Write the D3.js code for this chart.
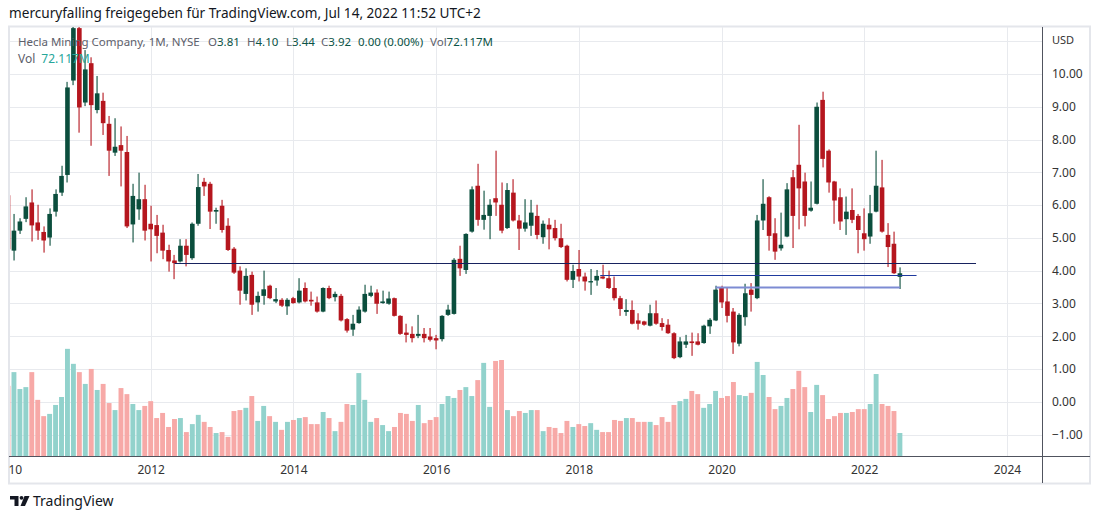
<!DOCTYPE html>
<html>
<head>
<meta charset="utf-8">
<script src="https://cdn.jsdelivr.net/npm/d3@7"></script>
<style>
  body { margin: 0; background: #fff; }
  #graf { width: 1100px; height: 519px; }
  text { font-family: 'Noto Sans', sans-serif; }
</style>
</head>
<body>
<div id="graf"></div>
<script>
// I. Datos (velas mensuales HL, NYSE, 2010-01 .. 2022-07)
primerAnio = 2010
aperturas = [6.30, 4.61, 5.22, 5.58, 6.08, 5.47, 5.18, 5.01, 5.80, 6.38, 6.92, 9.80, 11.40, 9.13, 10.33, 8.90, 9.18, 8.48, 7.60, 7.83,
  7.62, 5.41, 5.87, 6.18, 5.43, 5.39, 5.16, 4.63, 4.31, 4.28, 4.76, 4.38, 5.43, 6.71, 6.65, 5.80, 5.98, 5.37, 4.67, 4.00,
  3.29, 3.87, 3.03, 3.23, 3.54, 3.06, 3.11, 2.91, 3.16, 3.03, 3.47, 3.11, 3.03, 2.75, 3.47, 3.19, 3.23, 2.52, 2.20, 2.40,
  2.75, 3.23, 3.33, 3.01, 2.99, 3.16, 2.62, 2.11, 2.07, 2.01, 2.07, 1.99, 1.94, 1.91, 2.65, 2.68, 4.36, 4.02, 5.19, 6.59,
  5.55, 5.67, 6.21, 6.01, 5.30, 6.38, 5.53, 5.28, 5.37, 5.67, 5.02, 5.40, 5.30, 4.99, 4.76, 3.72, 4.05, 3.82, 3.64, 3.70,
  3.82, 3.77, 3.47, 3.16, 2.74, 2.80, 2.48, 2.45, 2.32, 2.70, 2.40, 2.35, 2.09, 1.36, 1.74, 1.84, 1.84, 1.79, 2.30, 2.48,
  3.50, 3.06, 2.75, 1.77, 2.58, 3.42, 3.16, 5.53, 6.24, 5.14, 4.68, 5.04, 6.85, 7.23, 6.72, 5.83, 6.04, 9.21, 7.66, 6.72,
  6.24, 5.57, 5.85, 5.67, 5.14, 5.04, 5.80, 6.54, 5.09, 4.82, 3.81]
maximos = [6.46, 5.73, 5.60, 6.24, 6.48, 6.01, 5.35, 5.90, 6.48, 7.20, 9.76, 11.60, 11.70, 10.73, 10.51, 9.94, 9.43, 8.72, 8.65, 8.40,
  8.11, 6.65, 6.99, 6.62, 5.98, 5.70, 5.40, 4.79, 4.48, 4.96, 4.96, 5.47, 6.95, 6.83, 6.71, 5.92, 6.16, 5.60, 4.72, 4.13,
  4.07, 3.97, 3.36, 4.00, 3.57, 3.47, 3.16, 3.16, 3.20, 3.77, 3.64, 3.36, 3.21, 3.49, 3.54, 3.36, 3.29, 2.55, 2.65, 2.91,
  3.57, 3.54, 3.43, 3.39, 3.36, 3.18, 2.64, 2.38, 2.30, 2.65, 2.25, 2.25, 2.04, 2.64, 2.96, 4.38, 4.76, 5.14, 6.57, 7.26,
  6.44, 6.18, 7.66, 6.69, 6.67, 6.79, 5.70, 6.18, 6.16, 6.01, 5.53, 5.60, 5.55, 5.43, 4.79, 4.18, 4.63, 3.94, 4.05, 4.02,
  4.18, 4.00, 3.82, 3.23, 3.13, 3.09, 2.70, 2.47, 2.96, 3.09, 2.55, 2.52, 2.12, 1.97, 2.04, 2.11, 2.09, 2.35, 2.55, 3.54,
  3.54, 3.50, 2.86, 2.70, 3.60, 3.62, 5.70, 6.79, 6.27, 5.60, 5.77, 6.67, 7.07, 8.45, 6.99, 6.72, 9.13, 9.46, 7.70, 6.74,
  6.51, 6.26, 6.51, 5.73, 5.90, 6.31, 7.66, 7.38, 5.45, 5.19, 4.10]
minimos = [4.63, 4.31, 5.12, 5.48, 4.89, 4.94, 4.55, 4.76, 5.65, 6.28, 6.69, 9.66, 8.21, 9.02, 7.81, 8.80, 8.14, 6.89, 7.50, 6.57,
  5.30, 4.86, 5.55, 4.92, 4.28, 4.53, 4.35, 3.97, 3.74, 4.25, 4.13, 4.33, 5.37, 6.28, 5.27, 5.43, 5.16, 4.60, 3.90, 2.96,
  3.09, 2.65, 2.75, 2.96, 3.13, 3.01, 2.89, 2.65, 2.99, 3.00, 3.03, 2.93, 2.72, 2.73, 3.13, 3.06, 2.45, 2.11, 2.01, 2.38,
  2.72, 3.19, 2.68, 2.99, 2.96, 2.60, 2.04, 1.81, 1.81, 1.94, 1.81, 1.84, 1.60, 1.84, 2.62, 2.66, 3.84, 3.90, 5.16, 5.37,
  5.25, 4.96, 5.67, 5.14, 5.27, 5.50, 4.63, 5.19, 5.06, 4.96, 4.82, 4.65, 4.92, 4.69, 3.67, 3.47, 3.67, 3.39, 3.26, 3.54,
  3.74, 3.44, 3.09, 2.62, 2.62, 2.36, 2.20, 2.32, 2.30, 2.35, 2.17, 2.07, 1.30, 1.33, 1.64, 1.40, 1.72, 1.77, 2.07, 2.46,
  2.86, 2.42, 1.46, 1.69, 2.32, 2.75, 3.13, 5.24, 4.61, 4.33, 4.61, 5.02, 4.69, 5.26, 5.35, 5.80, 6.02, 7.15, 6.38, 5.43,
  5.24, 5.09, 5.45, 4.53, 4.61, 4.82, 5.78, 5.16, 4.11, 3.90, 3.44]
cierres = [4.65, 5.22, 5.50, 5.96, 5.38, 5.22, 4.92, 5.73, 6.34, 6.89, 9.59, 11.40, 8.98, 10.14, 9.05, 9.41, 8.50, 7.66, 7.78, 7.66,
  5.35, 6.28, 6.18, 5.22, 5.26, 5.06, 4.61, 4.28, 4.23, 4.76, 4.48, 5.43, 6.55, 6.57, 5.80, 5.85, 5.24, 4.63, 3.94, 3.39,
  3.84, 2.96, 3.23, 3.43, 3.16, 3.13, 2.93, 3.11, 3.01, 3.39, 3.06, 3.06, 2.75, 3.47, 3.16, 3.29, 2.48, 2.17, 2.38, 2.81,
  3.29, 3.33, 2.99, 3.06, 3.15, 2.62, 2.07, 2.04, 1.94, 2.07, 1.94, 1.89, 1.87, 2.62, 2.81, 4.33, 4.07, 5.12, 6.48, 5.55,
  5.70, 6.01, 6.08, 5.22, 6.46, 5.53, 5.28, 5.47, 5.77, 5.09, 5.43, 5.26, 4.99, 4.72, 3.72, 3.99, 3.82, 3.67, 3.68, 3.84,
  3.76, 3.47, 3.16, 2.83, 2.80, 2.38, 2.38, 2.35, 2.70, 2.38, 2.28, 2.09, 1.33, 1.84, 1.84, 1.79, 1.74, 2.32, 2.50, 3.42,
  3.03, 2.62, 1.81, 2.65, 3.31, 3.26, 5.53, 6.04, 5.06, 4.58, 4.79, 6.48, 5.67, 6.51, 5.67, 5.92, 9.00, 7.41, 6.69, 6.14,
  5.50, 5.80, 5.55, 5.24, 4.96, 5.75, 6.59, 5.19, 4.72, 3.92, 3.92]
// volumen en millones de acciones
volumenes = [220, 263, 210, 216, 263, 176, 125, 132, 160, 185, 336, 289, 263, 226, 273, 207, 226, 166, 144, 213,
  194, 163, 144, 157, 172, 119, 135, 91, 116, 119, 75, 100, 129, 107, 91, 72, 75, 60, 141, 144,
  151, 188, 110, 157, 125, 107, 82, 107, 113, 119, 122, 100, 100, 138, 119, 78, 107, 163, 160, 260,
  176, 107, 119, 97, 78, 91, 135, 132, 110, 160, 103, 113, 122, 163, 188, 182, 207, 216, 188, 238,
  292, 154, 298, 301, 144, 125, 141, 135, 144, 144, 78, 91, 88, 72, 110, 91, 100, 94, 103, 82,
  75, 75, 113, 110, 119, 119, 107, 107, 107, 97, 122, 107, 160, 172, 179, 204, 194, 151, 163, 204,
  182, 188, 232, 191, 188, 198, 295, 254, 185, 147, 157, 182, 210, 267, 216, 138, 223, 191, 116, 125,
  135, 135, 138, 147, 147, 163, 257, 163, 157, 141, 72.117]
anios = [2010, 2012, 2014, 2016, 2018, 2020, 2022, 2024]
precios = [11, 10, 9, 8, 7, 6, 5, 4, 3, 2, 1, 0, -1]
// líneas horizontales dibujadas (precio, desde/hasta en meses desde 2010-01)
niveles = [4.23, 3.84, 3.49]
nivelesDesde = [28, 99.6, 119]
nivelesHasta = [162.8, 152.8, 150]
nivelesColor = ['#17225e', '#1f3a9e', '#7d8bd3']

velas = aperturas.map((o, i) => ({
  i: i, o: o, h: maximos[i], l: minimos[i], c: cierres[i], v: volumenes[i]
}))

// II. Configuración
ancho_total = 1100
alto_total = 519
area = { left: 10, top: 27, right: 1042, bottom: 456 }

verde = '#0b4e3d'
rojo = '#b5161e'
verdeVol = '#92d2cc'
rojoVol = '#f7a9a7'
rejilla = '#e8eaee'

svg = d3.select('#graf').append('svg')
  .attr('width', ancho_total)
  .attr('height', alto_total)
  .style('display', 'block')

svg.append('rect').attr('width', ancho_total).attr('height', alto_total).attr('fill', '#fff')

defs = svg.append('defs')
defs.append('clipPath').attr('id', 'clip')
  .append('rect')
    .attr('x', area.left).attr('y', area.top)
    .attr('width', area.right - area.left).attr('height', area.bottom - area.top)
// el grupo del eje x está trasladado: el recorte va en sus coordenadas
defs.append('clipPath').attr('id', 'clipEje')
  .append('rect')
    .attr('x', area.left - 1).attr('y', 0)
    .attr('width', area.right - area.left + 1).attr('height', 26)

// escaladores
x = d3.scaleLinear()
  .domain([0, (2024 - primerAnio) * 12])
  .range([8, 8 + 168 * 5.946])

y = d3.scaleLinear()
  .domain([-1, 10])
  .range([434.5, 74])

yVol = d3.scaleLinear()
  .domain([0, 72.117])
  .range([area.bottom, area.bottom - 23])

// III. Marco y rejilla
svg.append('rect')
  .attr('x', 9).attr('y', 26.5)
  .attr('width', 1081).attr('height', 457)
  .attr('fill', 'none')
  .attr('stroke', '#e4e6eb')
  .attr('stroke-width', 2)

g = svg.append('g').attr('clip-path', 'url(#clip)')

g.selectAll('.hgrid')
  .data(precios)
  .enter().append('line')
    .attr('x1', area.left).attr('x2', area.right)
    .attr('y1', d => Math.round(y(d)) + 0.5).attr('y2', d => Math.round(y(d)) + 0.5)
    .attr('stroke', rejilla)

g.selectAll('.vgrid')
  .data(anios)
  .enter().append('line')
    .attr('x1', d => Math.round(x((d - primerAnio) * 12)) + 0.5)
    .attr('x2', d => Math.round(x((d - primerAnio) * 12)) + 0.5)
    .attr('y1', area.top).attr('y2', area.bottom)
    .attr('stroke', rejilla)

// IV. Leyenda superior (debajo de las velas)
leyenda = svg.append('g').style('font-size', '11.5px')
leyenda.append('text').attr('x', 18).attr('y', 46).attr('fill', '#5d606b')
  .text('Hecla Mining Company, 1M, NYSE')
ultima = velas[velas.length - 1]
ohlc = [['O', ultima.o, 208], ['H', ultima.h, 247], ['L', ultima.l, 286], ['C', ultima.c, 321]]
ohlc.forEach(d => {
  t = leyenda.append('text').attr('x', d[2]).attr('y', 46)
  t.append('tspan').attr('fill', '#5d606b').text(d[0])
  t.append('tspan').attr('fill', '#0b5346').text(d3.format('.2f')(d[1]))
})
leyenda.append('text').attr('x', 358).attr('y', 46).attr('fill', '#0b5346')
  .text('0.00 (0.00%)')
t = leyenda.append('text').attr('x', 430).attr('y', 46)
t.append('tspan').attr('fill', '#5d606b').text('Vol')
t.append('tspan').attr('fill', '#0b5346').text(d3.format('.3f')(ultima.v) + 'M')
t = leyenda.append('text').attr('x', 18).attr('y', 63).style('font-size', '12px')
t.append('tspan').attr('fill', '#5d606b').text('Vol')
t.append('tspan').attr('dx', 6).attr('fill', '#26a69a').text(d3.format('.3f')(ultima.v) + 'M')

// V. Volumen y velas
anchoVela = 4.6
anchoVol = 4.9

g.selectAll('.vol')
  .data(velas)
  .enter().append('rect')
    .attr('x', d => x(d.i) - anchoVol / 2)
    .attr('y', d => yVol(d.v))
    .attr('width', anchoVol)
    .attr('height', d => area.bottom - yVol(d.v))
    .attr('fill', d => d.c >= d.o ? verdeVol : rojoVol)

g.selectAll('.mecha')
  .data(velas)
  .enter().append('rect')
    .attr('x', d => Math.round(x(d.i)) - 0.5)
    .attr('y', d => y(d.h))
    .attr('width', 1.1)
    .attr('height', d => y(d.l) - y(d.h))
    .attr('fill', d => d.c >= d.o ? verde : rojo)

g.selectAll('.cuerpo')
  .data(velas)
  .enter().append('rect')
    .attr('x', d => x(d.i) - anchoVela / 2)
    .attr('y', d => y(Math.max(d.o, d.c)))
    .attr('width', anchoVela)
    .attr('height', d => Math.max(1, Math.abs(y(d.o) - y(d.c))))
    .attr('fill', d => d.c >= d.o ? verde : rojo)

// líneas horizontales del autor (ajustadas al píxel)
g.selectAll('.nivel')
  .data(niveles)
  .enter().append('line')
    .attr('x1', (d, i) => x(nivelesDesde[i]))
    .attr('x2', (d, i) => x(nivelesHasta[i]))
    .attr('y1', d => Math.floor(y(d)) + 0.5).attr('y2', d => Math.floor(y(d)) + 0.5)
    .attr('stroke', (d, i) => nivelesColor[i])
    .attr('stroke-width', (d, i) => i == 2 ? 2 : 1.2)

// VI. Ejes
yAxisGroup = svg.append('g')
  .attr('transform', `translate(${ area.right }, 0)`)
yAxisGroup.call(d3.axisRight(y)
    .tickValues(precios.filter(p => p < 11))
    .tickFormat(d3.format('.2f'))
    .tickSize(0)
    .tickPadding(10))
yAxisGroup.select('.domain').remove()
yAxisGroup.selectAll('text')
  .style('font-family', "'Noto Sans', sans-serif")
  .style('font-size', '12px')
  .attr('fill', '#333')

svg.append('text')
  .attr('x', 1052).attr('y', 44)
  .style('font-size', '11px')
  .attr('fill', '#333')
  .text('USD')

xAxisGroup = svg.append('g')
  .attr('transform', `translate(0, ${ area.bottom })`)
  .attr('clip-path', 'url(#clipEje)')
xAxisGroup.call(d3.axisBottom(x)
    .tickValues(anios.map(a => (a - primerAnio) * 12))
    .tickFormat(i => primerAnio + i / 12)
    .tickSize(0)
    .tickPadding(9))
xAxisGroup.select('.domain').remove()
xAxisGroup.selectAll('text')
  .style('font-family', "'Noto Sans', sans-serif")
  .style('font-size', '12px')
  .attr('fill', '#333')

// separadores de los ejes
svg.append('line')
  .attr('x1', 9).attr('x2', 1090)
  .attr('y1', area.bottom + 0.5).attr('y2', area.bottom + 0.5)
  .attr('stroke', '#50535e')
svg.append('line')
  .attr('x1', area.right + 0.5).attr('x2', area.right + 0.5)
  .attr('y1', area.top).attr('y2', 483)
  .attr('stroke', '#50535e')

// VII. Encabezado y pie
svg.append('text')
  .attr('x', 9).attr('y', 18)
  .style('font-size', '13.6px')
  .attr('fill', '#131722')
  .text('mercuryfalling freigegeben für TradingView.com, Jul 14, 2022 11:52 UTC+2')

logo = svg.append('g').attr('fill', '#131722')
logo.append('path').attr('d', 'M10 496 h8.5 v10 h-4 v-6.5 h-4.5z')
logo.append('circle').attr('cx', 21.5).attr('cy', 497.8).attr('r', 1.9)
logo.append('path').attr('d', 'M24.5 496 h5 l-4.5 10 h-4.5z')
svg.append('text')
  .attr('x', 33).attr('y', 506)
  .style('font-size', '14px')
  .attr('fill', '#131722')
  .text('TradingView')
</script>
</body>
</html>
